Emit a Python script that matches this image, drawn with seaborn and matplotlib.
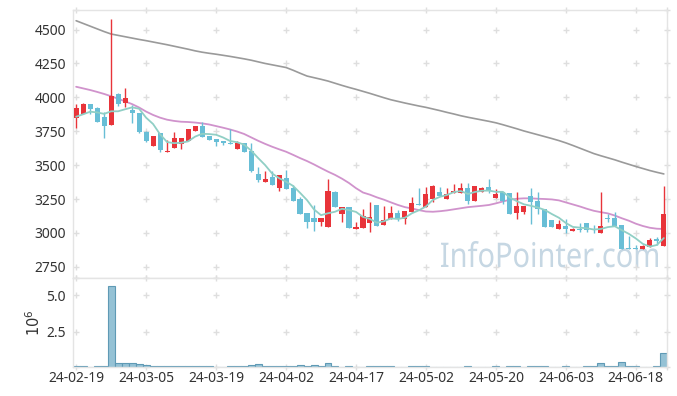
import numpy as np
import pandas as pd
import matplotlib
matplotlib.use("Agg")
import matplotlib.pyplot as plt
import seaborn as sns
from matplotlib.textpath import TextPath
from matplotlib.patches import PathPatch
from matplotlib.font_manager import FontProperties
from matplotlib.transforms import Affine2D

# trading days (Korean market)
dates = [
    "24-02-19", "24-02-20", "24-02-21", "24-02-22", "24-02-23", "24-02-26", "24-02-27", "24-02-28", "24-02-29", "24-03-04",
    "24-03-05", "24-03-06", "24-03-07", "24-03-08", "24-03-11", "24-03-12", "24-03-13", "24-03-14", "24-03-15", "24-03-18",
    "24-03-19", "24-03-20", "24-03-21", "24-03-22", "24-03-25", "24-03-26", "24-03-27", "24-03-28", "24-03-29", "24-04-01",
    "24-04-02", "24-04-03", "24-04-04", "24-04-05", "24-04-08", "24-04-09", "24-04-11", "24-04-12", "24-04-15", "24-04-16",
    "24-04-17", "24-04-18", "24-04-19", "24-04-22", "24-04-23", "24-04-24", "24-04-25", "24-04-26", "24-04-29", "24-04-30",
    "24-05-02", "24-05-03", "24-05-07", "24-05-08", "24-05-09", "24-05-10", "24-05-13", "24-05-14", "24-05-16", "24-05-17",
    "24-05-20", "24-05-21", "24-05-22", "24-05-23", "24-05-24", "24-05-27", "24-05-28", "24-05-29", "24-05-30", "24-05-31",
    "24-06-03", "24-06-04", "24-06-05", "24-06-07", "24-06-10", "24-06-11", "24-06-12", "24-06-13", "24-06-14", "24-06-17",
    "24-06-18", "24-06-19", "24-06-20", "24-06-21", "24-06-24",
]

open_ = [3850, 3879, 3948, 3919, 3855, 3798, 4022, 3960, 3906, 3882,
         3746, 3643, 3734, 3594, 3624, 3658, 3680, 3751, 3786, 3712,
         3692, 3678, 3665, 3621, 3661, 3604, 3434, 3378, 3410, 3333,
         3403, 3329, 3248, 3145, 3110, 3083, 3046, 3304, 3139, 3193,
         3027, 3034, 3075, 3206, 3058, 3102, 3144, 3102, 3156, 3208,
         3193, 3250, 3304, 3248, 3292, 3296, 3329, 3237, 3304, 3338,
         3260, 3304, 3292, 3149, 3154, 3272, 3235, 3174, 3095, 3027,
         3051, 3017, 3029, 3071, 3027, 2997, 3112, 3107, 3058, 2890,
         2887, 2879, 2898, 2953, 2903]
high = [3948, 3955, 3950, 3931, 3889, 4577, 4030, 4066, 3943, 3886,
        3750, 3715, 3734, 3685, 3742, 3698, 3766, 3786, 3820, 3712,
        3692, 3678, 3766, 3680, 3661, 3661, 3488, 3459, 3454, 3430,
        3462, 3353, 3265, 3145, 3203, 3112, 3395, 3309, 3191, 3193,
        3083, 3176, 3230, 3206, 3198, 3201, 3167, 3161, 3267, 3329,
        3341, 3355, 3340, 3329, 3358, 3370, 3366, 3346, 3340, 3395,
        3324, 3304, 3292, 3299, 3198, 3333, 3299, 3180, 3095, 3095,
        3102, 3036, 3075, 3071, 3058, 3299, 3137, 3152, 3058, 2977,
        2911, 2911, 2960, 2967, 3346]
low = [3776, 3875, 3875, 3818, 3698, 3798, 3938, 3931, 3808, 3735,
       3673, 3643, 3599, 3594, 3624, 3619, 3680, 3751, 3709, 3687,
       3641, 3648, 3658, 3621, 3599, 3447, 3378, 3378, 3353, 3311,
       3324, 3237, 3139, 3034, 3014, 3051, 3046, 3193, 3078, 3034,
       3027, 3034, 3007, 3051, 3058, 3102, 3090, 3068, 3156, 3204,
       3193, 3230, 3272, 3248, 3292, 3296, 3213, 3237, 3304, 3296,
       3260, 3211, 3137, 3102, 3139, 3063, 3139, 3046, 3046, 3027,
       2997, 3012, 3009, 3005, 2997, 2997, 3083, 3051, 2879, 2883,
       2880, 2879, 2898, 2911, 2903]
close = [3919, 3948, 3916, 3818, 3791, 4010, 3948, 3993, 3886, 3742,
         3680, 3715, 3611, 3604, 3698, 3698, 3766, 3786, 3709, 3687,
         3673, 3665, 3658, 3661, 3599, 3456, 3390, 3397, 3353, 3425,
         3324, 3237, 3139, 3083, 3083, 3112, 3309, 3193, 3191, 3034,
         3046, 3125, 3117, 3051, 3093, 3149, 3105, 3161, 3218, 3204,
         3289, 3346, 3272, 3287, 3309, 3331, 3237, 3346, 3333, 3311,
         3287, 3237, 3137, 3198, 3198, 3230, 3174, 3046, 3046, 3066,
         3031, 3031, 3022, 3022, 3019, 3051, 3102, 3051, 2879, 2883,
         2880, 2903, 2948, 2940, 3137]

ma5 = [3857, 3875, 3894, 3889, 3878, 3897, 3897, 3912, 3926, 3916,
       3850, 3803, 3727, 3670, 3662, 3665, 3675, 3710, 3731, 3729,
       3724, 3704, 3678, 3669, 3651, 3608, 3553, 3501, 3439, 3404,
       3378, 3347, 3296, 3242, 3173, 3131, 3145, 3156, 3178, 3168,
       3155, 3118, 3103, 3075, 3086, 3107, 3103, 3112, 3145, 3167,
       3195, 3244, 3266, 3280, 3301, 3309, 3287, 3302, 3311, 3312,
       3303, 3303, 3261, 3234, 3211, 3200, 3187, 3169, 3139, 3112,
       3073, 3044, 3039, 3034, 3025, 3029, 3043, 3049, 3020, 2993,
       2959, 2919, 2899, 2911, 2962]
ma20 = [4078, 4066, 4054, 4040, 4025, 4008, 3990, 3970, 3950, 3925,
        3895, 3870, 3850, 3835, 3826, 3820, 3818, 3814, 3808, 3800,
        3788, 3776, 3763, 3748, 3730, 3705, 3680, 3657, 3636, 3617,
        3599, 3576, 3552, 3530, 3505, 3478, 3452, 3428, 3400, 3368,
        3330, 3298, 3282, 3262, 3245, 3225, 3206, 3190, 3180, 3168,
        3158, 3156, 3160, 3166, 3174, 3182, 3190, 3195, 3200, 3206,
        3218, 3232, 3245, 3252, 3255, 3255, 3252, 3250, 3247, 3240,
        3225, 3210, 3195, 3178, 3163, 3153, 3144, 3128, 3108, 3090,
        3068, 3051, 3038, 3031, 3029]
ma120 = [4565, 4545, 4525, 4505, 4485, 4467, 4457, 4447, 4437, 4427,
         4418, 4408, 4398, 4388, 4377, 4366, 4355, 4343, 4333, 4325,
         4318, 4310, 4302, 4293, 4284, 4274, 4262, 4250, 4240, 4230,
         4220, 4200, 4178, 4157, 4145, 4133, 4120, 4104, 4088, 4073,
         4059, 4044, 4029, 4013, 3997, 3982, 3970, 3958, 3947, 3936,
         3926, 3914, 3902, 3889, 3877, 3864, 3853, 3843, 3833, 3823,
         3812, 3798, 3783, 3768, 3752, 3738, 3724, 3710, 3696, 3681,
         3664, 3645, 3625, 3605, 3585, 3569, 3554, 3539, 3522, 3506,
         3490, 3475, 3460, 3447, 3435]

# volume in millions
volume = [0.13, 0.13, 0.08, 0.13, 0.13, 5.61, 0.34, 0.34, 0.34, 0.27,
          0.20, 0.13, 0.13, 0.13, 0.13, 0.13, 0.13, 0.13, 0.13, 0.13,
          0.08, 0.08, 0.13, 0.13, 0.13, 0.20, 0.27, 0.13, 0.13, 0.13,
          0.13, 0.13, 0.20, 0.13, 0.20, 0.13, 0.34, 0.13, 0.08, 0.13,
          0.08, 0.08, 0.13, 0.13, 0.13, 0.13, 0.08, 0.08, 0.13, 0.13,
          0.13, 0.08, 0.08, 0.08, 0.08, 0.08, 0.13, 0.08, 0.08, 0.08,
          0.13, 0.08, 0.13, 0.13, 0.08, 0.13, 0.13, 0.13, 0.08, 0.08,
          0.13, 0.08, 0.08, 0.13, 0.13, 0.34, 0.13, 0.13, 0.42, 0.13,
          0.13, 0.08, 0.08, 0.13, 1.04]

df = pd.DataFrame({"date": dates, "open": open_, "high": high, "low": low,
                   "close": close, "ma5": ma5, "ma20": ma20, "ma120": ma120,
                   "volume": volume})
df["i"] = np.arange(len(df))

sns.set_theme(style="white")
plt.rcParams["font.family"] = ["Noto Sans", "DejaVu Sans"]

UP = "#e8343a"
DOWN = "#68bed6"
GRID = "#dedede"
SPINE = "#e4e4e4"

fig = plt.figure(figsize=(6.77, 3.96), dpi=100)
ax = fig.add_axes([0.1078, 0.2992, 0.8774, 0.6755])
axv = fig.add_axes([0.1078, 0.074, 0.8774, 0.2232])

# watermark (a bit taller/narrower than the plain font, so scale a text path)
tp = TextPath((0, 0), "InfoPointer.com", size=1, prop=FontProperties(family="Noto Sans"))
bb = tp.get_extents()
sx = 217 / bb.width
sy = 34.0
wm = Affine2D().scale(sx, sy).translate(441 - bb.x0 * sx, 396 - 267)
ax.add_patch(PathPatch(tp, transform=wm, facecolor="#c6d7e3", edgecolor="none", zorder=0.5))

# moving averages
sns.lineplot(data=df, x="i", y="ma120", ax=ax, color="#9a9a9a", linewidth=1.2, zorder=2)
sns.lineplot(data=df, x="i", y="ma20", ax=ax, color="#d093cc", linewidth=1.3, zorder=2)
sns.lineplot(data=df, x="i", y="ma5", ax=ax, color="#90cfc5", linewidth=1.3, zorder=4)

# candles
up = df["close"] >= df["open"]
colors = np.where(up, UP, DOWN)
ax.vlines(df["i"], df["low"], df["high"], colors=colors, linewidth=1, zorder=3)
body_lo = np.minimum(df["open"], df["close"])
body_h = np.maximum((df["close"] - df["open"]).abs(), 6)
ax.bar(df["i"], body_h, bottom=body_lo, width=0.72, color=colors, linewidth=0, zorder=3)

ax.set_xlim(-0.45, 84.45)
ax.set_ylim(2671, 4644)
ax.set_yticks(range(2750, 4501, 250))
ax.set_xticks(range(0, 81, 10))
ax.set_xticklabels([])
ax.set_xlabel("")
ax.set_ylabel("")

# volume
sns.barplot(data=df, x="i", y="volume", ax=axv, color="#95c2d5", saturation=1,
            width=1.0, edgecolor="#5f9ab5", linewidth=0.8, zorder=2)
axv.set_xlim(-0.45, 84.45)
axv.set_ylim(0.1, 6.16)
axv.set_yticks([2.5, 5.0])
axv.set_yticklabels(["2.5", "5.0"])
axv.set_xticks(range(0, 81, 10))
axv.set_xticklabels(df["date"][::10])
axv.set_xlabel("")
axv.set_ylabel("$10^6$", fontsize=10.5, color="#333333", labelpad=2)

# plus-shaped grid marks
for a, ys in [(ax, list(range(2750, 4501, 250)) + [2671, 4644]),
              (axv, [0.1, 2.5, 5.0, 6.16])]:
    xs = list(range(0, 81, 10)) + [84.45]
    gx, gy = np.meshgrid(xs, ys)
    a.plot(gx.ravel(), gy.ravel(), linestyle="none", marker="+", color=GRID,
           markersize=5, markeredgewidth=1, clip_on=False, zorder=1)

for a in (ax, axv):
    for s in a.spines.values():
        s.set_color(SPINE)
        s.set_linewidth(1)
    a.tick_params(length=0, labelsize=10, labelcolor="#333333", pad=5)
    a.grid(False)
axv.tick_params(axis="x", pad=3)

fig.savefig("out.png", dpi=100)
